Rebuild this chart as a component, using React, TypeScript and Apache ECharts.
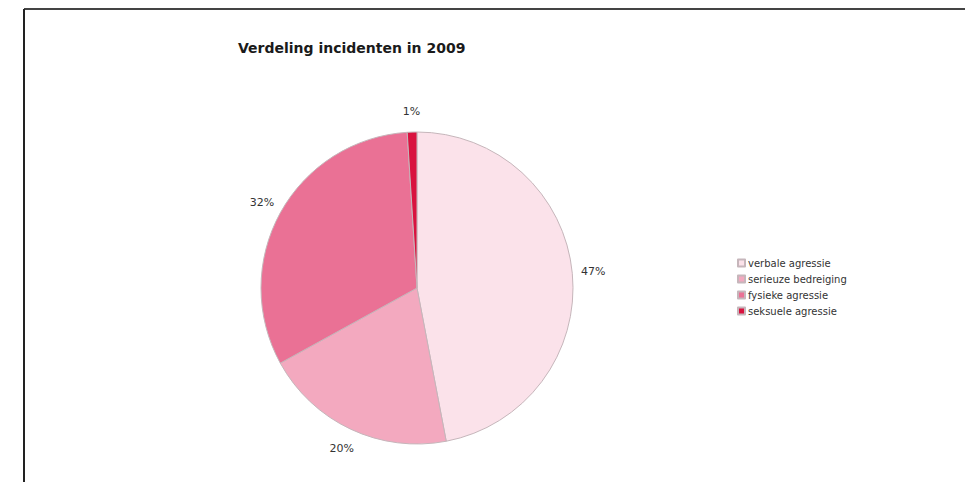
import React, { useEffect, useRef } from "react";
import * as echarts from "echarts";

const title = "Verdeling incidenten in 2009";
const categories = [
  "verbale agressie",
  "serieuze bedreiging",
  "fysieke agressie",
  "seksuele agressie",
];
const values = [47, 20, 32, 1];
const colors = ["#fbe2ea", "#f3a9bf", "#ea7195", "#d9123f"];

export default function App() {
  const ref = useRef<HTMLDivElement>(null);

  useEffect(() => {
    if (!ref.current) return;
    const chart = echarts.init(ref.current, undefined, { renderer: "svg" });
    const font = "'DejaVu Sans', Verdana, sans-serif";
    const center = [417, 288];
    const pieData = categories.map((name, i) => ({
      name,
      value: values[i],
      itemStyle: { color: colors[i] },
    }));
    const labelData = categories.map((name, i) => ({
      name,
      value: values[i],
    }));
    chart.setOption({
      animation: false,
      backgroundColor: "#ffffff",
      title: {
        text: title,
        left: 233,
        top: 36,
        textStyle: {
          fontFamily: font,
          fontSize: 14,
          fontWeight: "bold",
          color: "#1a1a1a",
        },
      },
      legend: {
        orient: "vertical",
        left: 732,
        top: 252,
        icon: "rect",
        itemWidth: 7,
        itemHeight: 7,
        itemGap: 4,
        data: categories,
        selectedMode: false,
        textStyle: {
          fontFamily: font,
          fontSize: 10,
          lineHeight: 12,
          color: "#333333",
          padding: [0, 0, 0, -2],
        },
      },
      graphic: [
        {
          type: "line",
          shape: { x1: 24, y1: 9, x2: 965, y2: 9 },
          style: { stroke: "#444444", lineWidth: 2 },
        },
        {
          type: "line",
          shape: { x1: 24, y1: 9, x2: 24, y2: 482 },
          style: { stroke: "#222222", lineWidth: 2 },
        },
      ],
      series: [
        {
          type: "pie",
          name: "incidenten",
          center,
          radius: 156,
          startAngle: 90,
          clockwise: true,
          label: { show: false },
          labelLine: { show: false },
          emphasis: { disabled: true },
          itemStyle: { borderColor: "#c6b6bb", borderWidth: 1 },
          data: pieData,
        },
        {
          type: "pie",
          name: "labels",
          center,
          radius: [156, 192],
          startAngle: 90,
          clockwise: true,
          silent: true,
          emphasis: { disabled: true },
          itemStyle: { color: "rgba(0,0,0,0)" },
          label: {
            show: true,
            position: "inside",
            formatter: "{c}%",
            fontFamily: font,
            fontSize: 11,
            color: "#333333",
          },
          labelLine: { show: false },
          data: labelData,
        },
      ],
    });
    return () => chart.dispose();
  }, []);

  return (
    <div
      ref={ref}
      style={{ position: "absolute", left: 0, top: 0, width: 965, height: 482 }}
    />
  );
}
